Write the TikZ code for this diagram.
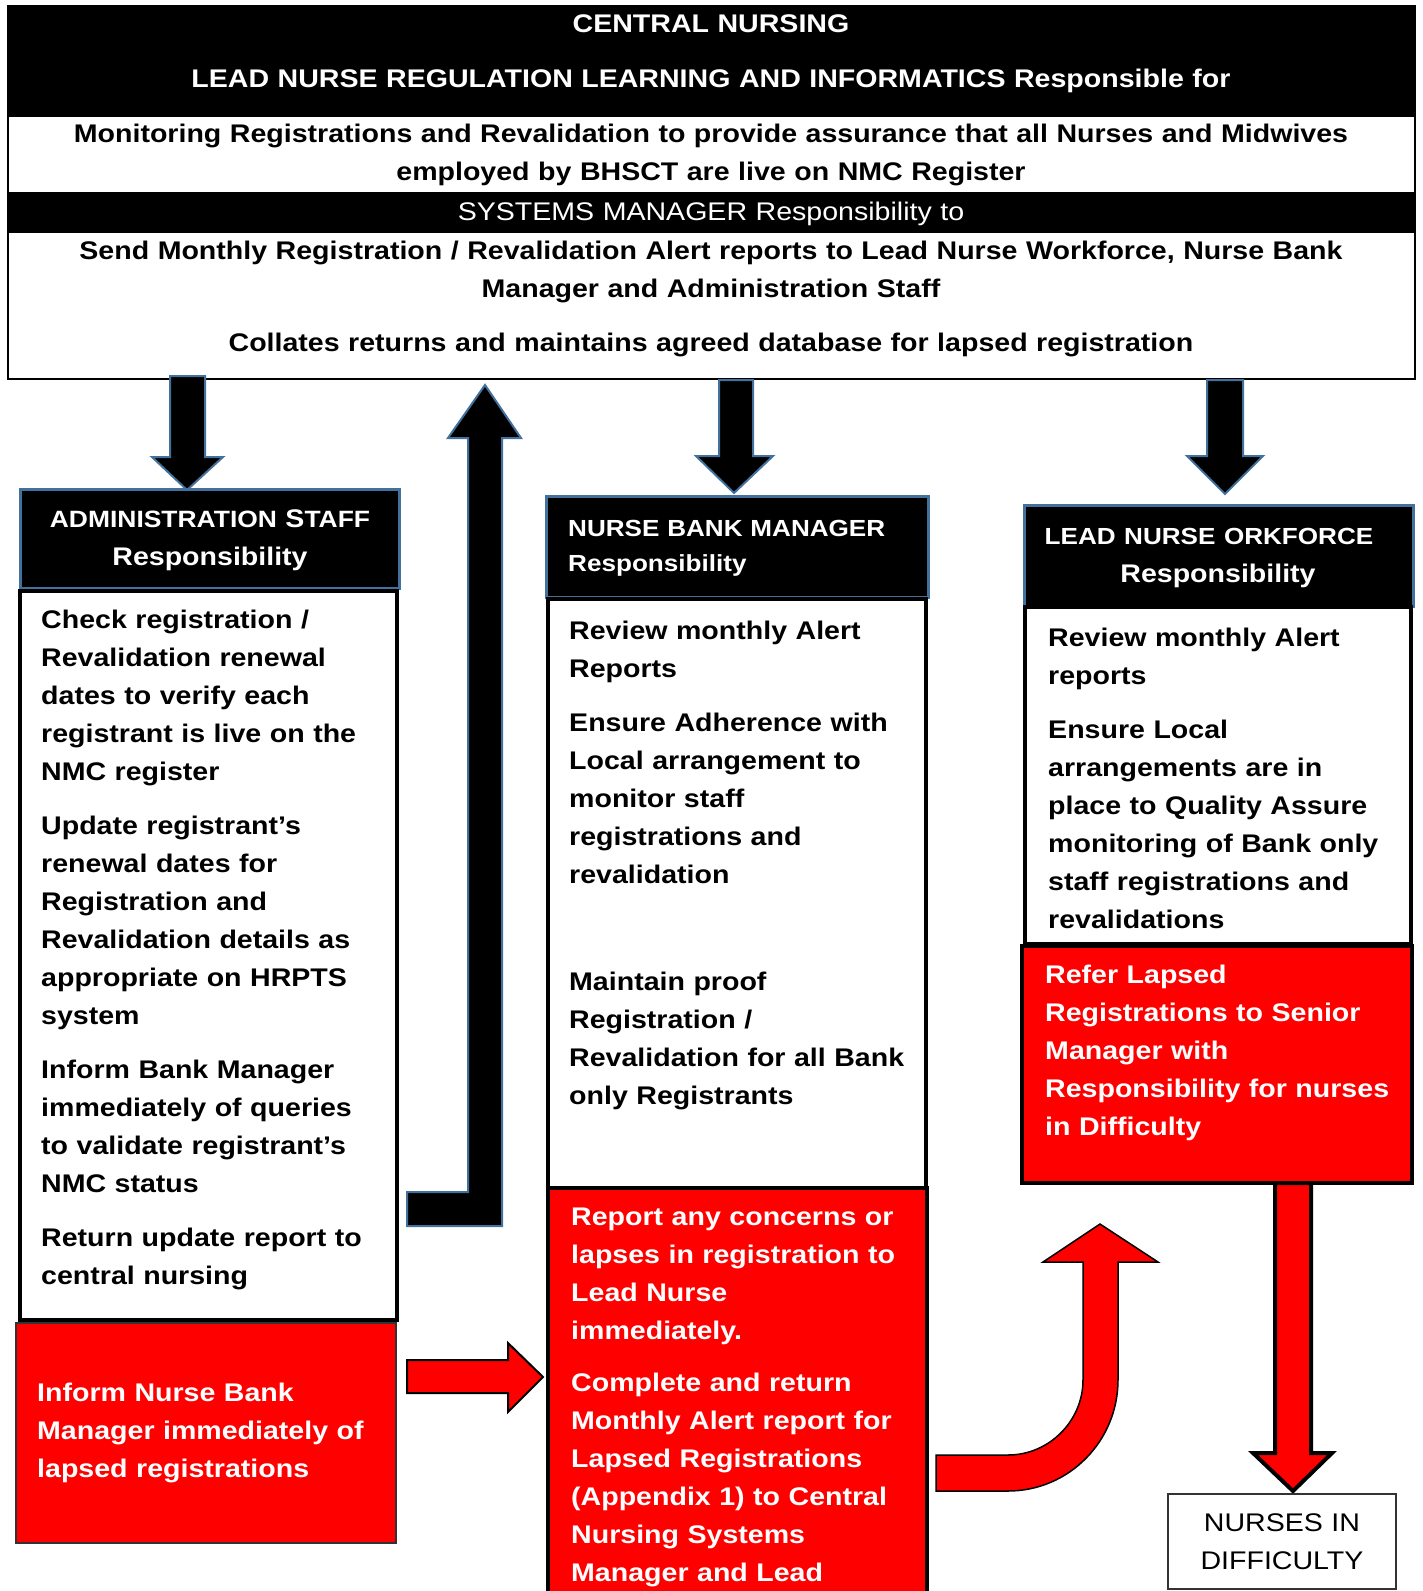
\documentclass[tikz,border=0pt]{standalone}
\usepackage{fontspec}
\setmainfont{Liberation Sans}[FakeStretch=1.12]
\definecolor{hdrblue}{HTML}{41719C}
\definecolor{pred}{HTML}{FF0000}
\begin{document}
\begin{tikzpicture}[x=1pt,y=-1pt,
  bodyfont/.style={font=\bfseries\fontsize{25.5}{38}\selectfont},
  txtl/.style={inner sep=0pt, anchor=base west, text width=420pt, align=left, bodyfont},
  txtc/.style={inner sep=0pt, anchor=base, text width=1400pt, align=center, bodyfont},
  hdrbox/.style={fill=black, draw=hdrblue, line width=3pt},
  bodybox/.style={fill=white, draw=black, line width=4pt},
  redbox/.style={fill=pred, draw=black, line width=4pt},
  blkarrow/.style={fill=black, draw=hdrblue, line width=2pt, line join=miter},
  redarrow/.style={fill=pred, draw=black, line width=2pt, line join=miter}]
\useasboundingbox (0,0) rectangle (1423,1591);
\clip (0,0) rectangle (1423,1591);

% ---------- top box ----------
\fill[black] (8,6) rectangle (1415,117);
\fill[black] (8,192) rectangle (1415,233);
\draw[line width=2pt] (8,6) rectangle (1415,379);
\coordinate (topbox) at (711,379);

\node[txtc, text=white] (t1) at (711,32) {CENTRAL NURSING};
\node[txtc, text=white] (t2) at (711,87) {LEAD NURSE REGULATION LEARNING AND INFORMATICS Responsible for};
\node[txtc] (t3) at (711,142) {Monitoring Registrations and Revalidation to provide assurance that all Nurses and Midwives\\employed by BHSCT are live on NMC Register};
\node[txtc, text=white, font=\fontsize{25.5}{38}\selectfont] (t4) at (711,220) {SYSTEMS MANAGER Responsibility to};
\node[txtc] (t5) at (711,259) {Send Monthly Registration / Revalidation Alert reports to Lead Nurse Workforce, Nurse Bank\\Manager and Administration Staff\\[16pt]Collates returns and maintains agreed database for lapsed registration};

% ---------- block arrows from top ----------
\draw[blkarrow] (170,376) -- (205,376) -- (205,457) -- (223,457) -- (187,490) -- (152,457) -- (170,457) -- cycle;
\draw[blkarrow] (407,1192) -- (468,1192) -- (468,438) -- (448,438) -- (485,385) -- (521,438) -- (502,438) -- (502,1226) -- (407,1226) -- cycle;
\draw[blkarrow] (719,380) -- (753,380) -- (753,456) -- (773,456) -- (734,493) -- (696,456) -- (719,456) -- cycle;
\draw[blkarrow] (1207,380) -- (1243,380) -- (1243,456) -- (1263,456) -- (1225,494) -- (1187,456) -- (1207,456) -- cycle;

% ---------- administration staff ----------
\draw[hdrbox] (20,489) rectangle (399,588);
\node[txtc, text width=370pt, text=white] (ahead) at (210,527) {{\fontsize{23.6}{38}\selectfont ADMINISTRATION }S{\fontsize{23.6}{38}\selectfont TAFF}\\Responsibility};
\draw[bodybox] (20,591) rectangle (397,1320);
\node[txtl] (abody) at (41,628.5) {Check registration /\\Revalidation renewal\\dates to verify each\\registrant is live on the\\NMC register\\[16pt]Update registrant’s\\renewal dates for\\Registration and\\Revalidation details as\\appropriate on HRPTS\\system\\[16pt]Inform Bank Manager\\immediately of queries\\to validate registrant’s\\NMC status\\[16pt]Return update report to\\central nursing};
\draw[fill=pred, draw=black!80, line width=2pt] (16,1323) rectangle (396,1543);
\node[txtl, text=white] (ared) at (37,1401.5) {Inform Nurse Bank\\Manager immediately of\\lapsed registrations};

% ---------- nurse bank manager ----------
\draw[hdrbox] (546,496) rectangle (928,597);
\node[txtl, text=white, font=\bfseries\fontsize{23.3}{35}\selectfont] (nhead) at (568,536.5) {NURSE BANK MANAGER\\Responsibility};
\draw[bodybox] (548,599) rectangle (926,1188);
\node[txtl] (nbody) at (569,639.5) {Review monthly Alert\\Reports\\[16pt]Ensure Adherence with\\Local arrangement to\\monitor staff\\registrations and\\revalidation\\[69pt]Maintain proof\\Registration /\\Revalidation for all Bank\\only Registrants};
\draw[redbox] (548,1188) rectangle (927,1620);
\node[txtl, text=white] (nred) at (571,1225.5) {Report any concerns or\\lapses in registration to\\Lead Nurse\\immediately.\\[14pt]Complete and return\\Monthly Alert report for\\Lapsed Registrations\\(Appendix 1) to Central\\Nursing Systems\\Manager and Lead};

% ---------- lead nurse workforce ----------
\draw[hdrbox] (1024,505) rectangle (1413,606);
\node[txtc, text width=380pt, text=white] (lhead) at (1218,544) {{\fontsize{23.3}{38}\selectfont LEAD NURSE ORKFORCE\hbox to 18pt{}}\\Responsibility};
\draw[bodybox] (1025,607) rectangle (1411,944);
\node[txtl] (lbody) at (1048,646.5) {Review monthly Alert\\reports\\[16pt]Ensure Local\\arrangements are in\\place to Quality Assure\\monitoring of Bank only\\staff registrations and\\revalidations};
\draw[redbox] (1022,946) rectangle (1412,1183);
\node[txtl, text=white] (lred) at (1045,983.5) {Refer Lapsed\\Registrations to Senior\\Manager with\\Responsibility for nurses\\in Difficulty};

% ---------- red arrows ----------
\draw[redarrow] (407,1360) -- (508,1360) -- (508,1343) -- (543,1377) -- (508,1412) -- (508,1393) -- (407,1393) -- cycle;
\draw[redarrow, line width=1.5pt] (936,1455) -- (1008,1455) .. controls (1049,1455) and (1083,1421) .. (1083,1380) -- (1083,1262) -- (1043,1262) -- (1100,1224) -- (1158,1262) -- (1118,1262) -- (1118,1380) .. controls (1118,1441) and (1069,1491) .. (1008,1491) -- (936,1491) -- cycle;
\draw[redarrow, line width=4pt] (1275,1183) -- (1311,1183) -- (1311,1453) -- (1332,1453) -- (1293,1491) -- (1253,1453) -- (1275,1453) -- cycle;

% ---------- nurses in difficulty ----------
\draw[draw=black!80, line width=2pt, fill=white] (1168,1494) rectangle (1396,1589);
\node[txtc, text width=220pt, font=\fontsize{25.5}{38}\selectfont] (nid) at (1282,1531) {NURSES IN\\DIFFICULTY};
\end{tikzpicture}
\end{document}
